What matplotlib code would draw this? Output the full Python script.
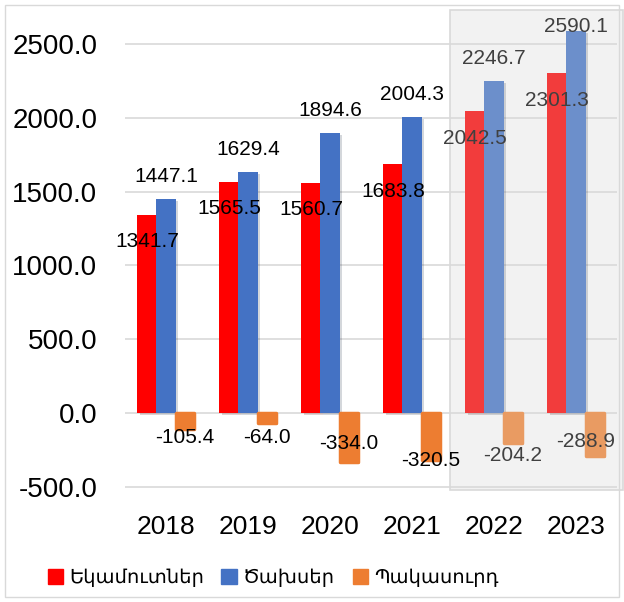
import numpy as np
import matplotlib.pyplot as plt
from matplotlib.patches import Patch, Rectangle
import matplotlib.patheffects as pe

years = ["2018", "2019", "2020", "2021", "2022", "2023"]
income = [1341.7, 1565.5, 1560.7, 1683.8, 2042.5, 2301.3]
spending = [1447.1, 1629.4, 1894.6, 2004.3, 2246.7, 2590.1]
deficit = [-105.4, -64.0, -334.0, -320.5, -204.2, -288.9]
legend_names = ["Եկամուտներ", "Ծախսեր", "Պակասուրդ"]

# colours, and the paler ones used inside the grey box
COLORS = ["#FF0000", "#4472C4", "#ED7D31"]
PALE = ["#F23C3C", "#6C8FCB", "#E99B62"]
N_SHADED = 2

# label nudges (pixels below zero line / sideways) for the deficit labels
NEG_DY = [24, 24, 30, 47, 42, 28]
NEG_DX = [0, 0, 0, 0, 0, -9]

NUM_FONT = ["Liberation Sans", "DejaVu Sans"]
TXT_FONT = ["Noto Sans", "DejaVu Sans"]

W, H = 624, 602
fig = plt.figure(figsize=(W / 100, H / 100), dpi=100)
ax = fig.add_axes([125 / W, (H - 490) / H, (617 - 125) / W, (490 - 10) / H])
ax.set_xlim(-0.5, 5.5)
ax.set_ylim(-521, 2729)
px = 480 / (2729 + 521)  # pixels per unit

# grey box round the last two years
ax.axvspan(3.46, 5.57, facecolor="#F2F2F2", edgecolor="#D9D9D9", lw=1.2,
           zorder=0.1, clip_on=False)

x = np.arange(len(years))
bw = 0.232
shadow = [pe.SimplePatchShadow(offset=(1.5, -1.5), alpha=0.18), pe.Normal()]

for i in range(len(years)):
    cols = PALE if i >= len(years) - N_SHADED else COLORS
    lc = "#404040" if i >= len(years) - N_SHADED else "black"
    b1 = ax.bar(x[i] - bw, income[i], bw, color=cols[0], zorder=2)
    b2 = ax.bar(x[i], spending[i], bw, color=cols[1], zorder=2)
    b3 = ax.bar(x[i] + bw, deficit[i], bw * 0.93, color=cols[2], zorder=2,
                edgecolor=cols[2], linewidth=2.5, joinstyle="round")
    for b in (b1, b2, b3):
        b[0].set_path_effects(shadow)

    # income label just inside the bar top
    ax.text(x[i] - bw, income[i] - 27 / px, f"{income[i]:.1f}", ha="center",
            va="center", fontsize=15, family=NUM_FONT, color=lc, zorder=5)
    # spending label above the bar, kept inside the plot
    sy = min(spending[i] + 23 / px, 2614)
    ax.text(x[i], sy, f"{spending[i]:.1f}", ha="center", va="center",
            fontsize=15, family=NUM_FONT, color=lc, zorder=5)
    ax.text(x[i] + bw + NEG_DX[i] / 82, -NEG_DY[i] / px, f"{deficit[i]:.1f}",
            ha="center", va="center", fontsize=15, family=NUM_FONT,
            color=lc, zorder=5)

ax.set_xticks(x)
ax.set_xticklabels(years, family=NUM_FONT, fontsize=19)
ax.set_yticks(np.arange(-500, 2501, 500))
ax.set_yticklabels([f"{v:.1f}" for v in np.arange(-500, 2501, 500)],
                   family=NUM_FONT, fontsize=20)
ax.tick_params(axis="both", length=0)
ax.tick_params(axis="x", pad=18)
ax.tick_params(axis="y", pad=20)
for s in ax.spines.values():
    s.set_visible(False)
ax.set_axisbelow(True)
ax.yaxis.grid(True, color="#D9D9D9", lw=1.2, zorder=0.5)

handles = [Patch(facecolor=c, edgecolor=c) for c in COLORS]
fig.legend(handles, legend_names, loc="center", bbox_to_anchor=(273 / W, (H - 578) / H),
           ncol=3, frameon=False, prop={"family": TXT_FONT, "size": 14},
           handlelength=0.8, handleheight=0.8, handletextpad=0.3,
           columnspacing=0.9)

# thin chart border
fig.patches.append(Rectangle((5 / W, 5 / H), 1 - 10 / W, 1 - 10 / H,
                             transform=fig.transFigure, fill=False,
                             edgecolor="#D9D9D9", lw=1))

fig.savefig("out.png", dpi=100)
